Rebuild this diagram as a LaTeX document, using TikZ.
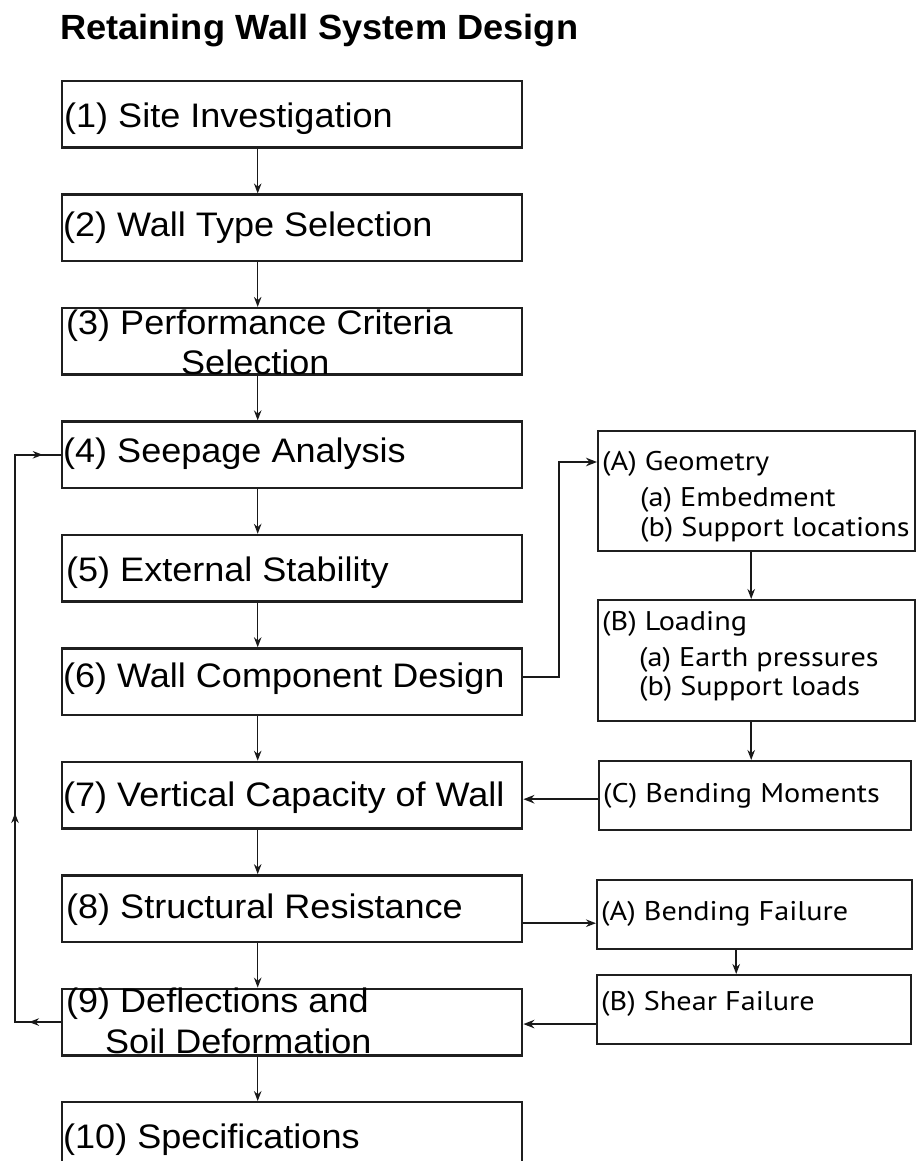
\documentclass[tikz,border=0pt]{standalone}
\usepackage{fontspec}
\setmainfont{Liberation Sans}
\newfontfamily\lfont[FakeStretch=1.06]{Liberation Sans}
\newfontfamily\tfont[FakeStretch=1.035]{Liberation Sans}
\newfontfamily\rfont[FakeStretch=1.12]{PT Sans}
\usetikzlibrary{arrows.meta,decorations.markings,calc}
\begin{document}
\begin{tikzpicture}[x=1pt,y=-1pt,
  lbox/.style={draw=black!88, line width=2.4pt, minimum width=460pt, minimum height=66.5pt,
    inner xsep=1pt, inner ysep=0pt, text depth=0pt, anchor=north west,
    font=\lfont\fontsize{34}{40}\selectfont},
  rbox/.style={draw=black!88, line width=2.4pt, inner xsep=4pt, inner ysep=0pt,
    text depth=0pt, anchor=north west, font=\rfont\fontsize{27}{30}\selectfont},
  conn/.style={draw=black!90, line width=1.5pt, -{Stealth[length=10pt,width=7.5pt]}},
  connb/.style={draw=black!90, line width=2.5pt, -{Stealth[length=11pt,width=8.5pt]}},
  loopline/.style={draw=black!90, line width=1.6pt, postaction={decorate},
    decoration={markings,
      mark=at position 32pt with {\arrow{Stealth[length=10pt,width=7.5pt]}},
      mark=at position 255pt with {\arrow{Stealth[length=10pt,width=7.5pt]}},
      mark=at position 641pt with {\arrow{Stealth[length=10pt,width=7.5pt]}}}}
]
\clip (0,0) rectangle (917,1161);
\useasboundingbox (0,0) rectangle (917,1161);
\fill[white] (0,0) rectangle (917,1161);

\node[anchor=base west, inner sep=0pt, font=\tfont\bfseries\fontsize{35}{40}\selectfont] (title) at (60,39.5) {Retaining Wall System Design};

% left column
\node[lbox, text height=26.9pt] (b1) at (61,80) {\makebox[458pt][l]{\hspace*{1pt}(1) Site Investigation}};
\node[lbox, text height=16.9pt] (b2) at (61,193.45) {\makebox[458pt][l]{(2) Wall Type Selection}};
\node[lbox, text height=65.5pt] (b3) at (61,306.9) {\makebox[458pt][l]{\begin{tabular}[b]{@{}l@{}}\hspace*{3pt}(3) Performance Criteria\\\hspace*{118pt}Selection\end{tabular}}};
\node[lbox, text height=15.5pt] (b4) at (61,420.35) {\makebox[458pt][l]{(4) Seepage Analysis}};
\node[lbox, text height=26.9pt] (b5) at (61,533.8) {\makebox[458pt][l]{\hspace*{3pt}(5) External Stability}};
\node[lbox, text height=11.5pt] (b6) at (61,647.25) {\makebox[458pt][l]{(6) Wall Component Design}};
\node[lbox, text height=22.9pt] (b7) at (61,760.7) {\makebox[458pt][l]{(7) Vertical Capacity of Wall}};
\node[lbox, text height=19.5pt] (b8) at (61,874.15) {\makebox[458pt][l]{\hspace*{3pt}(8) Structural Resistance}};
\node[lbox, text height=63.5pt] (b9) at (61,987.6) {\makebox[458pt][l]{\begin{tabular}[b]{@{}l@{}}\hspace*{3pt}(9) Deflections and\\[1pt]\hspace*{42pt}Soil Deformation\end{tabular}}};
\node[lbox, text height=25.5pt] (b10) at (61,1101.05) {\makebox[458pt][l]{(10) Specifications}};

% right column
\node[rbox, minimum width=317pt, minimum height=120pt, text height=91.4pt] (gA) at (597,430)
  {\makebox[309pt][l]{\begin{tabular}[b]{@{}l@{}}(A) Geometry\\[6pt]\hspace*{38pt}(a) Embedment\\\hspace*{38pt}(b) Support locations\end{tabular}}};
\node[rbox, minimum width=317pt, minimum height=121pt, text height=69pt] (lB) at (597,599)
  {\makebox[309pt][l]{\begin{tabular}[b]{@{}l@{}}(B) Loading\\[6pt]\hspace*{37pt}(a) Earth pressures\\[-1pt]\hspace*{37pt}(b) Support loads\end{tabular}}};
\node[rbox, minimum width=312pt, minimum height=69pt, text height=13pt] (bC) at (598,760)
  {\makebox[304pt][l]{(C) Bending Moments}};
\node[rbox, minimum width=315pt, minimum height=69pt, text height=11pt] (bf) at (596,879)
  {\makebox[307pt][l]{(A) Bending Failure}};
\node[rbox, minimum width=314pt, minimum height=69pt, text height=1pt] (sh) at (596,974)
  {\makebox[306pt][l]{(B) Shear Failure}};

% main chain
\foreach \a/\b in {b1/b2,b2/b3,b3/b4,b4/b5,b5/b6,b6/b7,b7/b8,b8/b9,b9/b10}
  \draw[conn] ([xshift=-34.5pt]\a.south) -- ([xshift=-34.5pt]\b.north);

% (6) -> (A) Geometry
\coordinate (j6) at (559,462);
\draw[connb] ([yshift=4.5pt]b6.east) -| (j6) -- (j6 -| gA.west);
\draw[conn, line width=2pt] ([xshift=-5.5pt]gA.south) -- ([xshift=-5.5pt]gA.south |- lB.north);
\draw[conn, line width=2pt] ([xshift=-5.5pt]lB.south) -- ([xshift=-5.5pt]lB.south |- bC.north);
\draw[connb] ([yshift=-3.5pt]bC.west) -- ([yshift=-3.5pt]bC.west -| b7.east);

% (8) -> failures -> (9)
\draw[conn] ([yshift=-14.6pt]b8.east) -- ([yshift=-14.6pt]b8.east -| bf.west);
\draw[conn] ([xshift=-18.5pt]bf.south) -- ([xshift=-18.5pt]bf.south |- sh.north);
\draw[connb] ([yshift=-2pt]b9.east -| sh.west) -- ([yshift=-2pt]b9.east);

% feedback loop (9) -> (4)
\coordinate (lx) at (15,0);
\draw[loopline] (b9.west) -- (b9.west -| lx) |- (b4.west);
\end{tikzpicture}
\end{document}
